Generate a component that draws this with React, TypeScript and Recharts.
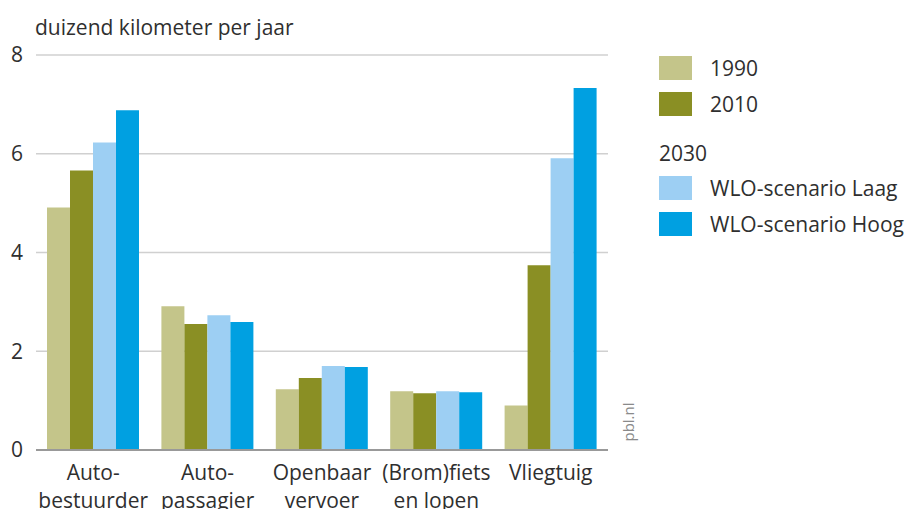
import { BarChart, Bar, XAxis, YAxis, CartesianGrid } from 'recharts'

const categories = ['Auto-bestuurder', 'Auto-passagier', 'Openbaar vervoer', '(Brom)fiets en lopen', 'Vliegtuig']
const categoryLines: string[][] = [
  ['Auto-', 'bestuurder'],
  ['Auto-', 'passagier'],
  ['Openbaar', 'vervoer'],
  ['(Brom)fiets', 'en lopen'],
  ['Vliegtuig'],
]
const values1990 = [4.91, 2.91, 1.23, 1.19, 0.9]
const values2010 = [5.66, 2.55, 1.46, 1.15, 3.74]
const valuesLaag = [6.23, 2.73, 1.7, 1.19, 5.91]
const valuesHoog = [6.88, 2.59, 1.68, 1.17, 7.33]
const yTicks = [0, 2, 4, 6, 8]

const COLORS = {
  y1990: '#c4c58a',
  y2010: '#8a8f24',
  laag: '#9dcff3',
  hoog: '#00a0e1',
}

const FONT = '"Open Sans", sans-serif'
const TEXT = '#2f2f2f'

const data = categories.map((name, i) => ({
  name,
  y1990: values1990[i],
  y2010: values2010[i],
  laag: valuesLaag[i],
  hoog: valuesHoog[i],
}))

const legendRows = [
  { label: '1990', color: COLORS.y1990, y: 68 },
  { label: '2010', color: COLORS.y2010, y: 104 },
  { label: '2030', color: null, y: 153 },
  { label: 'WLO-scenario Laag', color: COLORS.laag, y: 188 },
  { label: 'WLO-scenario Hoog', color: COLORS.hoog, y: 224 },
]

const CategoryTick = ({ x, y, payload }: any) => {
  const lines = categoryLines[payload.index] || [payload.value]
  return (
    <text x={x} y={y} textAnchor="middle" fill={TEXT} fontSize={21} fontFamily={FONT}>
      {lines.map((line, i) => (
        <tspan key={i} x={x} dy={i === 0 ? 22 : 28}>
          {line}
        </tspan>
      ))}
    </text>
  )
}

export default function App() {
  return (
    <div style={{ position: 'absolute', left: 0, top: 0, width: 911, height: 509, background: '#fff' }}>
      <BarChart
        width={911}
        height={509}
        data={data}
        margin={{ top: 55, right: 303, bottom: 0, left: 0 }}
        barCategoryGap={11}
        barGap={0}
      >
        <CartesianGrid vertical={false} stroke="#d0d0d0" strokeWidth={1.5} />
        <XAxis
          dataKey="name"
          axisLine={{ stroke: '#999', strokeWidth: 2 }}
          tickLine={false}
          interval={0}
          tick={<CategoryTick />}
          height={59}
        />
        <YAxis
          width={36}
          domain={[0, 8]}
          ticks={yTicks}
          axisLine={false}
          tickLine={false}
          tickSize={0}
          tickMargin={13}
          tick={{ fill: TEXT, fontSize: 21, fontFamily: FONT }}
        />
        <Bar dataKey="y1990" fill={COLORS.y1990} isAnimationActive={false} />
        <Bar dataKey="y2010" fill={COLORS.y2010} isAnimationActive={false} />
        <Bar dataKey="laag" fill={COLORS.laag} isAnimationActive={false} />
        <Bar dataKey="hoog" fill={COLORS.hoog} isAnimationActive={false} />
        <text x={35} y={27} dominantBaseline="central" fill={TEXT} fontSize={21} fontFamily={FONT}>
          duizend kilometer per jaar
        </text>
        <text
          x={628}
          y={422}
          transform="rotate(-90 628 422)"
          textAnchor="middle"
          dominantBaseline="central"
          fill="#8a8a8a"
          fontSize={15}
          fontFamily={FONT}
        >
          pbl.nl
        </text>
        <g>
          {legendRows.map((row) => (
            <g key={row.label}>
              {row.color && <rect x={659} y={row.y - 12} width={33} height={24} fill={row.color} />}
              <text
                x={row.color ? 710 : 659}
                y={row.y}
                dominantBaseline="central"
                fill={TEXT}
                fontSize={21}
                fontFamily={FONT}
              >
                {row.label}
              </text>
            </g>
          ))}
        </g>
      </BarChart>
    </div>
  )
}
